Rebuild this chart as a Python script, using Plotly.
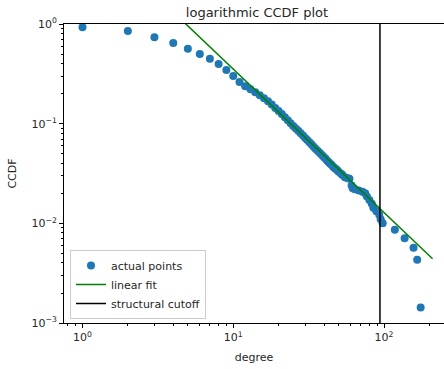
import math
import plotly.graph_objects as go

# ---- data ----
degree = [1, 2, 3, 4, 5, 6, 7, 8, 9, 10,
          11, 12, 13, 14, 15, 16, 17, 18, 19, 20,
          21, 22, 23, 24, 25, 26, 27, 28, 29, 30,
          31, 32, 33, 34, 35, 36, 37, 38, 39, 40,
          41, 42, 43, 44, 45, 46, 47, 48, 49, 50,
          52, 53, 55, 57, 59, 61, 62, 64, 68, 72,
          75, 77, 80, 83, 85, 89, 93, 95, 98,
          118, 137, 157, 166, 175]
ccdf = [0.93, 0.85, 0.735, 0.645, 0.565, 0.50, 0.448, 0.396, 0.345, 0.300,
        0.262, 0.238, 0.221, 0.207, 0.193, 0.180, 0.168, 0.156, 0.144, 0.134,
        0.125, 0.116, 0.108, 0.101, 0.0950, 0.0895, 0.0850, 0.0800, 0.0760, 0.0720,
        0.0685, 0.0650, 0.0620, 0.0590, 0.0565, 0.0540, 0.0520, 0.0500, 0.0480, 0.0460,
        0.0445, 0.0425, 0.0410, 0.0395, 0.0385, 0.0370, 0.0360, 0.0350, 0.0340, 0.0330,
        0.0315, 0.0305, 0.0290, 0.0285, 0.0280, 0.0240, 0.0225, 0.0220, 0.0214, 0.0207,
        0.0200, 0.0186, 0.0171, 0.0157, 0.0143, 0.0132, 0.0122, 0.0110, 0.0100,
        0.0086, 0.0071, 0.0057, 0.0043, 0.00143]

fit_x = [1, 210]
fit_y = [9.7, 0.00441]

cutoff_x = [94, 94]
cutoff_y = [0.001, 1]

x_major = [1, 10, 100]
x_major_text = ["10<sup>0</sup>", "10<sup>1</sup>", "10<sup>2</sup>"]
y_major = [0.001, 0.01, 0.1, 1]
y_major_text = ["10<sup>−3</sup>", "10<sup>−2</sup>", "10<sup>−1</sup>", "10<sup>0</sup>"]

x_minor = [m * 10 ** e for e in range(-1, 3) for m in range(2, 10)]
y_minor = [m * 10 ** e for e in range(-3, 0) for m in range(2, 10)]

FONT = "DejaVu Sans"
W, H = 444, 369

fig = go.Figure()
fig.add_trace(go.Scatter(
    x=degree, y=ccdf, mode="markers", name="actual points",
    marker=dict(color="#1f77b4", size=8, line=dict(width=0)),
))
fig.add_trace(go.Scatter(
    x=fit_x, y=fit_y, mode="lines", name="linear fit",
    line=dict(color="green", width=1.5),
))
fig.add_trace(go.Scatter(
    x=cutoff_x, y=cutoff_y, mode="lines", name="structural cutoff",
    line=dict(color="black", width=1.5),
))

fig.update_layout(
    width=W, height=H,
    margin=dict(l=64, r=0, t=24, b=46, autoexpand=False),
    paper_bgcolor="white", plot_bgcolor="white",
    font=dict(family=FONT, size=11, color="#262626"),
    title=dict(text="logarithmic CCDF plot", x=257 / W, xanchor="center",
               y=1 - 12 / H, yanchor="middle", automargin=False,
               font=dict(family=FONT, size=13, color="#262626")),
    showlegend=True,
    legend=dict(x=6 / 380, y=(323 - 250) / 299, xanchor="left", yanchor="top",
                bgcolor="rgba(255,255,255,0.9)", bordercolor="#cccccc", borderwidth=1,
                font=dict(family=FONT, size=11, color="#262626"),
                tracegroupgap=0),
)

fig.update_xaxes(
    type="log", range=[math.log10(0.754), math.log10(250)], automargin=False,
    showgrid=False, zeroline=False,
    showline=True, linecolor="black", linewidth=1, mirror=True,
    ticks="outside", ticklen=4, tickcolor="black",
    tickvals=x_major, ticktext=x_major_text,
    minor=dict(tickvals=x_minor, ticks="outside", ticklen=2, tickcolor="black", showgrid=False),
    title=dict(text="degree", font=dict(family=FONT, size=11), standoff=10),
)
fig.update_yaxes(
    type="log", range=[-3, 0], automargin=False,
    showgrid=False, zeroline=False,
    showline=True, linecolor="black", linewidth=1, mirror=False,
    ticks="outside", ticklen=4, tickcolor="black",
    tickvals=y_major, ticktext=y_major_text,
    minor=dict(tickvals=y_minor, ticks="outside", ticklen=2, tickcolor="black", showgrid=False),
    title=dict(text="CCDF", font=dict(family=FONT, size=11), standoff=12),
)

fig.write_html("out.html",
               config={"displayModeBar": False},
               post_script="document.body.style.margin='0px';document.body.style.overflow='hidden';")
